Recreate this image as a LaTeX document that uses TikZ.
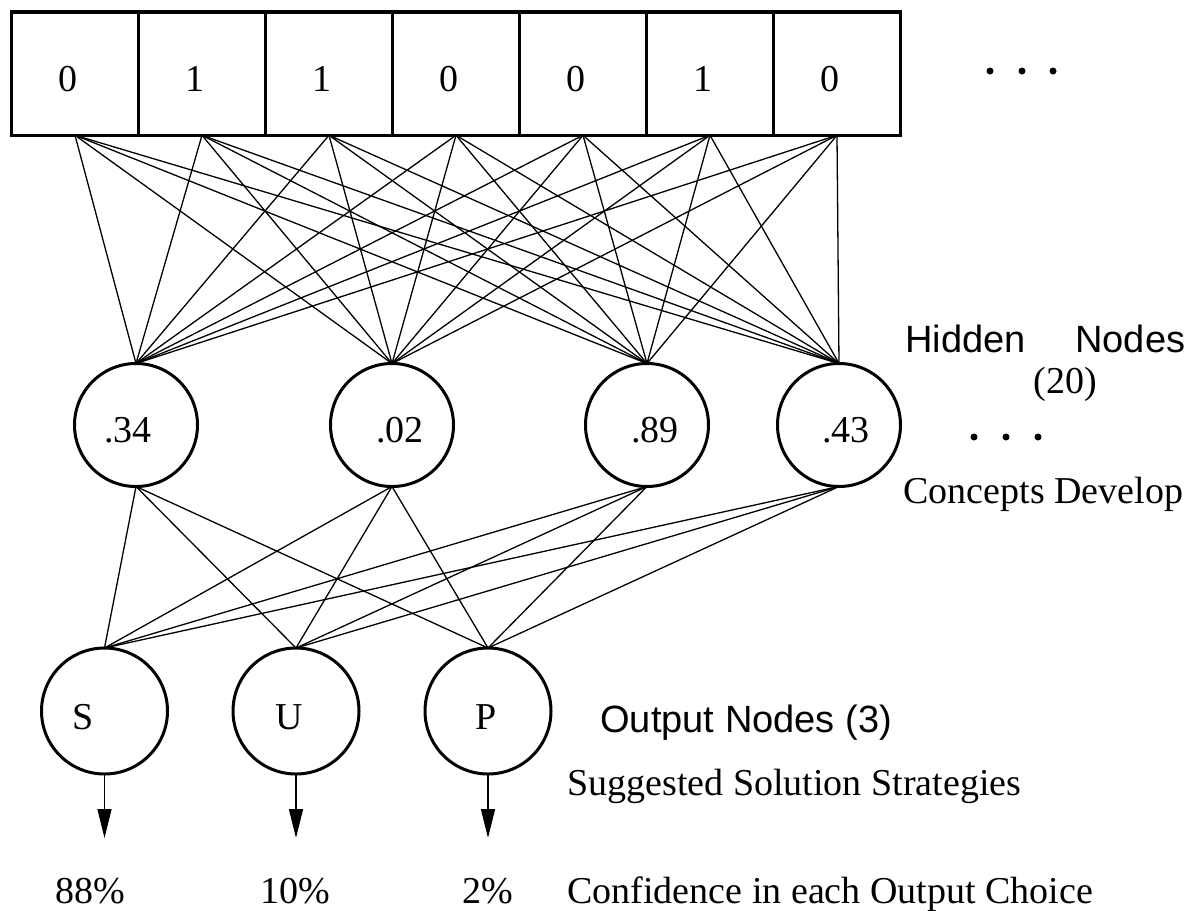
\documentclass[tikz,border=0pt]{standalone}
\usepackage{fontspec}
\setmainfont{Liberation Serif}
\newfontfamily\hv{Liberation Sans}
\usetikzlibrary{arrows.meta}
\begin{document}
\begin{tikzpicture}[x=0.5pt,y=-0.5pt,
  every node/.style={font=\fontsize{19}{22}\selectfont},
  cell/.style={draw, line width=1.75pt, minimum width=63.5pt, minimum height=61.75pt, inner sep=0pt, outer sep=0pt},
  hid/.style={draw, circle, line width=1.5pt, minimum size=61.5pt, inner sep=0pt, outer sep=0pt},
  outn/.style={draw, circle, line width=1.5pt, minimum size=63pt, inner sep=0pt, outer sep=0pt},
  wire/.style={line width=0.65pt},
  arr/.style={line width=0.65pt, -{Triangle[length=14.5pt,width=7pt]}},
  txt/.style={inner sep=0pt, anchor=base},
  ltxt/.style={inner sep=0pt, anchor=base west},
  sans/.style={font=\hv\fontsize{19}{22}\selectfont},
  dotn/.style={circle, fill, inner sep=0pt, minimum size=3.5pt}
]
\useasboundingbox (0,0) rectangle (1190,911);

% input cells
\foreach \i/\v [count=\k] in {75/0,202/1,329/1,456/0,583/0,710/1,837/0}{
  \node[cell] (b\k) at (\i,73.5) {};
  \node[txt] (bt\k) at (\i-7,91) {\v};
}
\node[dotn] (d1) at (990,71) {};
\node[dotn] (d2) at (1022,71) {};
\node[dotn] (d3) at (1053,71) {};

% hidden nodes
\node[hid] (h1) at (136,425) {};
\node[hid] (h2) at (392,425) {};
\node[hid] (h3) at (647,425) {};
\node[hid] (h4) at (839,425) {};
\node[txt] (ht1) at (128,442) {.34};
\node[txt] (ht2) at (400,442) {.02};
\node[txt] (ht3) at (655,442) {.89};
\node[txt] (ht4) at (846,442) {.43};

% output nodes
\node[outn] (o1) at (104.5,711) {};
\node[outn] (o2) at (296,711) {};
\node[outn] (o3) at (488,711) {};
\node[txt] (ot1) at (83,729) {S};
\node[txt] (ot2) at (289,729) {U};
\node[txt] (ot3) at (486,729) {P};

% wires input -> hidden
\foreach \k in {1,...,7}{
  \foreach \j in {1,...,4}{
    \draw[wire] (b\k.south) -- (h\j.north);
  }
}
% wires hidden -> output
\foreach \j in {1,...,4}{
  \foreach \m in {1,...,3}{
    \draw[wire] (h\j.south) -- (o\m.north);
  }
}

% output arrows
\coordinate (a1) at (104.5,838);
\coordinate (a2) at (296,838);
\coordinate (a3) at (488,838);
\foreach \m in {1,2,3}{
  \draw[arr] (o\m.south) -- (a\m);
}
\node[txt] (p1) at (90,903) {88\%};
\node[txt] (p2) at (295,903) {10\%};
\node[txt] (p3) at (488,903) {2\%};

% side labels
\node[ltxt,sans] (hl1) at (905,352) {Hidden};
\node[ltxt,sans] (hl2) at (1075,352) {Nodes};
\node[ltxt] (hl3) at (1033,393) {(20)};
\node[dotn] (e1) at (974,437) {};
\node[dotn] (e2) at (1006,437) {};
\node[dotn] (e3) at (1038,437) {};
\node[ltxt] (cd) at (903,503) {Concepts Develop};
\node[ltxt,sans] (onl) at (600,732) {Output Nodes (3)};
\node[ltxt] (ss) at (567,795) {Suggested Solution Strategies};
\node[ltxt] (cf) at (567,903) {Confidence in each Output Choice};
\end{tikzpicture}
\end{document}
